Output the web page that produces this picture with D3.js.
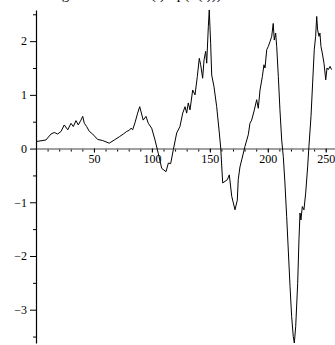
<!DOCTYPE html>
<html>
<head>
<meta charset="utf-8">
<script src="https://cdn.jsdelivr.net/npm/d3@7"></script>
<style>
  body { margin: 0; background: #fff; }
  svg { display: block; }
  text { font-family: "Liberation Serif", "DejaVu Serif", serif; }
</style>
</head>
<body>
<svg width="335" height="345"></svg>
<script>
// values (t, value)
const tValues = [0, 8.6, 12.9, 15.8, 18.7, 21.6, 24.4, 27.4, 30.2, 32.2, 34.5, 36.5, 38.8, 40.3,
  41.7, 43.7, 46.0, 48.9, 53.2, 57.5, 63.2, 67.6, 71.9, 75.3, 78.3, 80.5, 82.0, 83.4, 85.4,
  87.7, 89.5, 92.5, 94.9, 96.9, 99.8, 102.7, 105.5, 108.5, 112.2, 114.2, 116.2, 118.5, 121.4,
  124.2, 126.6, 128.6, 130, 131.4, 132.9, 135.2, 137.2, 139.2, 140.9, 142.1, 143.8, 145,
  146.4, 147.3, 148.7, 149.5, 150.7, 151.6, 153.6, 155.9, 158.2, 159.4, 161.1, 163.1, 165.1,
  166.8, 168.9, 171.7, 173.7, 174.5, 176, 177.5, 180.3, 183.2, 184.6, 186.1, 188.4, 190.4,
  191.8, 193.3, 195.3, 196.7, 197.6, 199.1, 200.4, 201.9, 203.4, 204.7, 205.6, 206.8, 207.7,
  209.1, 210.5, 212, 213.4, 214.8, 216.3, 217.7, 219.2, 220.6, 222, 222.9, 224.1, 225.8,
  226.9, 227.8, 228.6, 229.8, 231.2, 232.7, 234.4, 235.5, 237.3, 238.7, 240.1, 241.3, 242.2,
  243, 244.2, 245, 245.9, 247, 248.5, 250, 251.1, 252.2, 253.7, 255.1];
const seriesValues = [0.13, 0.16, 0.27, 0.30, 0.27, 0.32, 0.44, 0.35, 0.47, 0.41, 0.52, 0.44, 0.53, 0.60,
  0.47, 0.41, 0.32, 0.27, 0.17, 0.15, 0.10, 0.16, 0.22, 0.27, 0.32, 0.34, 0.38, 0.35, 0.48,
  0.66, 0.78, 0.53, 0.60, 0.47, 0.38, 0.16, -0.09, -0.37, -0.43, -0.27, -0.28, -0.02, 0.29,
  0.41, 0.66, 0.78, 0.66, 0.85, 0.72, 1.09, 1.00, 1.34, 1.68, 1.56, 1.31, 1.65,
  1.81, 1.59, 2.27, 2.58, 1.96, 1.37, 1.15, 0.78, 0.29, 0.01, -0.64, -0.61, -0.58,
  -0.49, -0.89, -1.14, -0.96, -0.58, -0.34, -0.21, 0.04, 0.26, 0.47, 0.53, 0.72, 0.91,
  0.75, 1.09, 1.34, 1.56, 1.50, 1.84, 1.90, 1.99, 2.09, 2.33, 2.02, 2.15, 1.90,
  1.34, 0.72, 0.16, -0.15, -0.64, -1.27, -1.89, -2.57, -3.13, -3.50, -3.62, -3.31, -2.51,
  -1.70, -1.20, -1.33, -1.08, -1.14, -0.83, -0.34, 0.04, 0.60, 1.22, 1.84, 2.09, 2.46,
  2.21, 2.09, 2.15, 1.90, 1.78, 1.59, 1.28, 1.50, 1.47, 1.53, 1.47];

const xMajorTicks = [50, 100, 150, 200, 250];
const xMinorTicks = d3.range(10, 251, 10);
const yMajorTicks = [-3, -2, -1, 0, 1, 2];
const yMinorTicks = [-3.5, -2.5, -1.5, -0.5, 0.5, 1.5, 2.5];
const titleText = "Log of the ratio S(t) / p(S(t)))";

const data = tValues.map((t, i) => ({t: t, v: seriesValues[i]}));

const svg = d3.select('svg');
const x = d3.scaleLinear().domain([0, 258]).range([36, 335]);
const y = d3.scaleLinear().domain([-3.62, 2.58]).range([343, 10]);

// title, mostly cut off at the top edge (as in the reference)
svg.append('text')
  .attr('x', 45).attr('y', -1.5)
  .attr('font-size', 15)
  .text(titleText);

// x axis along y = 0
const xMinor = svg.append('g')
  .attr('transform', `translate(0,${y(0)})`)
  .call(d3.axisBottom(x).tickValues(xMinorTicks).tickSize(3).tickFormat(''));
xMinor.select('.domain').remove();

const xAxis = svg.append('g')
  .attr('transform', `translate(0,${y(0)})`)
  .call(d3.axisBottom(x).tickValues(xMajorTicks).tickSize(4).tickSizeOuter(0).tickPadding(2));
xAxis.select('.domain').attr('stroke', '#808080').attr('stroke-width', 1.6);
xAxis.selectAll('text').attr('font-size', 12).attr('fill', '#000');

// y axis
const yMinor = svg.append('g')
  .attr('transform', `translate(${x(0)},0)`)
  .call(d3.axisLeft(y).tickValues(yMinorTicks).tickSize(3).tickFormat(''));
yMinor.select('.domain').remove();

const yAxis = svg.append('g')
  .attr('transform', `translate(${x(0)},0)`)
  .call(d3.axisLeft(y).tickValues(yMajorTicks).tickSize(6).tickSizeOuter(0).tickPadding(3)
    .tickFormat(d => d < 0 ? '\u2212' + Math.abs(d) : d));
yAxis.select('.domain').attr('stroke', '#000').attr('stroke-width', 1.2);
yAxis.selectAll('text').attr('font-size', 12).attr('fill', '#000');

const line = d3.line().x(d => x(d.t)).y(d => y(d.v));
svg.append('path')
  .datum(data)
  .attr('fill', 'none')
  .attr('stroke', '#000')
  .attr('stroke-width', 1)
  .attr('d', line);
</script>
</body>
</html>
